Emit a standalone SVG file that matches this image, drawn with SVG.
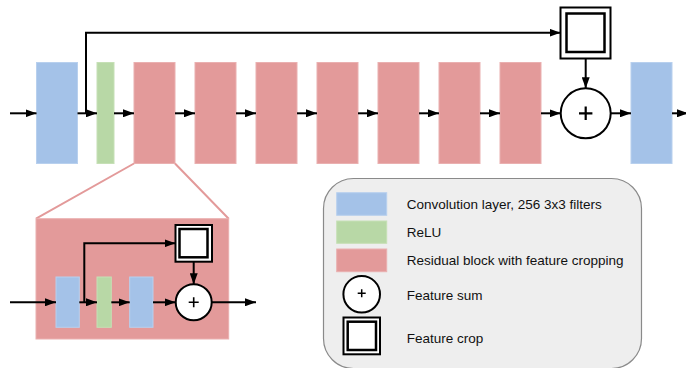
<svg xmlns="http://www.w3.org/2000/svg" width="686" height="368" viewBox="0 0 686 368">
  <style>
    .conv { fill: #a4c2e8; stroke: #b8d0ee; stroke-width: 1; }
    .relu { fill: #b8d8a6; stroke: #c6e0b6; stroke-width: 1; }
    .res { fill: #e39a9a; stroke: #eab0b0; stroke-width: 1; }
    .wire { fill: none; stroke: #000; stroke-width: 2; }
    .sum { fill: #fff; stroke: #000; stroke-width: 2; }
    .plus { fill: none; stroke: #000; stroke-width: 2.2; }
    .crop-out { fill: #fff; stroke: #000; stroke-width: 2; }
    .crop-in { fill: #fff; stroke: #000; stroke-width: 2.5; }
    .zoomline { fill: none; stroke: #e39a9a; stroke-width: 2; }
    .label { font-family: "Liberation Sans", Arial, sans-serif; font-size: 13.5px; fill: #111; }
  </style>
  <defs>
    <marker id="arrow" viewBox="0 0 11 8" refX="11" refY="4" markerWidth="11" markerHeight="8" markerUnits="userSpaceOnUse" orient="auto">
      <path d="M0,0 L11,4 L0,8 Z" fill="#000"/>
    </marker>
  </defs>

  <!-- main pipeline layers -->
  <g id="conv-in"><rect class="conv" x="36.5" y="62.5" width="41" height="101"/></g>
  <g id="relu-main"><rect class="relu" x="97" y="62.5" width="17" height="101"/></g>
  <g id="res-1"><rect class="res" x="134" y="62.5" width="41" height="101"/></g>
  <g id="res-2"><rect class="res" x="195" y="62.5" width="41" height="101"/></g>
  <g id="res-3"><rect class="res" x="256" y="62.5" width="41" height="101"/></g>
  <g id="res-4"><rect class="res" x="317" y="62.5" width="41" height="101"/></g>
  <g id="res-5"><rect class="res" x="378" y="62.5" width="41" height="101"/></g>
  <g id="res-6"><rect class="res" x="439" y="62.5" width="41" height="101"/></g>
  <g id="res-7"><rect class="res" x="500" y="62.5" width="41" height="101"/></g>
  <g id="crop-main">
    <rect class="crop-out" x="560.5" y="7.5" width="50" height="51"/>
    <rect class="crop-in" x="566.5" y="13.5" width="38" height="38.5"/>
  </g>
  <g id="sum-main">
    <circle class="sum" cx="585.7" cy="113.3" r="25"/>
    <path class="plus" d="M579,113.3 H592.4 M585.7,106.6 V120"/>
  </g>
  <g id="conv-out"><rect class="conv" x="631" y="62.5" width="41" height="101"/></g>

  <!-- magnified residual block -->
  <g id="res-detail">
    <path class="zoomline" d="M134,163.5 L36,218.7 M175,163.5 L228.7,218.7"/>
    <rect class="res" x="36" y="218.7" width="192.7" height="120.3"/>
    <rect class="conv" x="56" y="277" width="23.3" height="50.3"/>
    <rect class="relu" x="97" y="277" width="14.3" height="50.3"/>
    <rect class="conv" x="129.7" y="277" width="23.3" height="50.3"/>
    <rect class="crop-out" x="175.5" y="225" width="36.5" height="36.7"/>
    <rect class="crop-in" x="179.5" y="229" width="28" height="28.3"/>
    <circle class="sum" cx="193.7" cy="302.3" r="18"/>
    <path class="plus" d="M188.7,302.3 H198.7 M193.7,297.3 V307.3" style="stroke-width:1.6"/>
  </g>

  <!-- connectors -->
  <g id="connectors">
    <line class="wire" x1="10" y1="113.3" x2="36.5" y2="113.3" marker-end="url(#arrow)"/>
    <line class="wire" x1="77.5" y1="113.3" x2="97" y2="113.3" marker-end="url(#arrow)"/>
    <line class="wire" x1="114" y1="113.3" x2="134" y2="113.3" marker-end="url(#arrow)"/>
    <line class="wire" x1="175" y1="113.3" x2="195" y2="113.3" marker-end="url(#arrow)"/>
    <line class="wire" x1="236" y1="113.3" x2="256" y2="113.3" marker-end="url(#arrow)"/>
    <line class="wire" x1="297" y1="113.3" x2="317" y2="113.3" marker-end="url(#arrow)"/>
    <line class="wire" x1="358" y1="113.3" x2="378" y2="113.3" marker-end="url(#arrow)"/>
    <line class="wire" x1="419" y1="113.3" x2="439" y2="113.3" marker-end="url(#arrow)"/>
    <line class="wire" x1="480" y1="113.3" x2="500" y2="113.3" marker-end="url(#arrow)"/>
    <line class="wire" x1="541" y1="113.3" x2="560.7" y2="113.3" marker-end="url(#arrow)"/>
    <line class="wire" x1="610.7" y1="113.3" x2="631" y2="113.3" marker-end="url(#arrow)"/>
    <line class="wire" x1="672" y1="113.3" x2="688" y2="113.3" marker-end="url(#arrow)"/>
    <path class="wire" d="M86,113.3 V32.7 H560.5" marker-end="url(#arrow)"/>
    <line class="wire" x1="585.7" y1="58.5" x2="585.7" y2="88.3" marker-end="url(#arrow)"/>

    <line class="wire" x1="10" y1="302.3" x2="56" y2="302.3" marker-end="url(#arrow)"/>
    <line class="wire" x1="79.3" y1="302.3" x2="97" y2="302.3" marker-end="url(#arrow)"/>
    <line class="wire" x1="111.3" y1="302.3" x2="129.7" y2="302.3" marker-end="url(#arrow)"/>
    <line class="wire" x1="153" y1="302.3" x2="175.7" y2="302.3" marker-end="url(#arrow)"/>
    <line class="wire" x1="211.7" y1="302.3" x2="256" y2="302.3" marker-end="url(#arrow)"/>
    <path class="wire" d="M84.3,302.3 V243.3 H175.5" marker-end="url(#arrow)"/>
    <line class="wire" x1="193.7" y1="261.7" x2="193.7" y2="284.3" marker-end="url(#arrow)"/>
  </g>

  <!-- legend -->
  <g id="legend">
    <rect x="323.5" y="178.5" width="318" height="190" rx="30" ry="30" fill="#eeeeee" stroke="#8a8a8a" stroke-width="1.2"/>
    <rect class="conv" x="336.7" y="192.7" width="50" height="22.6"/>
    <rect class="relu" x="336.7" y="221" width="50" height="22.3"/>
    <rect class="res" x="336.7" y="249" width="50" height="22.7"/>
    <circle class="sum" cx="361.7" cy="294.3" r="18.3"/>
    <path class="plus" d="M357.7,293.3 H365.7 M361.7,289.3 V297.3" style="stroke-width:1.5"/>
    <rect class="crop-out" x="343.5" y="317.5" width="36.5" height="36.8"/>
    <rect class="crop-in" x="347.7" y="321.7" width="28.3" height="28.3"/>
    <text class="label" x="406.7" y="208.5">Convolution layer, 256 3x3 filters</text>
    <text class="label" x="406.7" y="236.8">ReLU</text>
    <text class="label" x="406.7" y="265">Residual block with feature cropping</text>
    <text class="label" x="406.7" y="300">Feature sum</text>
    <text class="label" x="406.7" y="342.7">Feature crop</text>
  </g>
</svg>
